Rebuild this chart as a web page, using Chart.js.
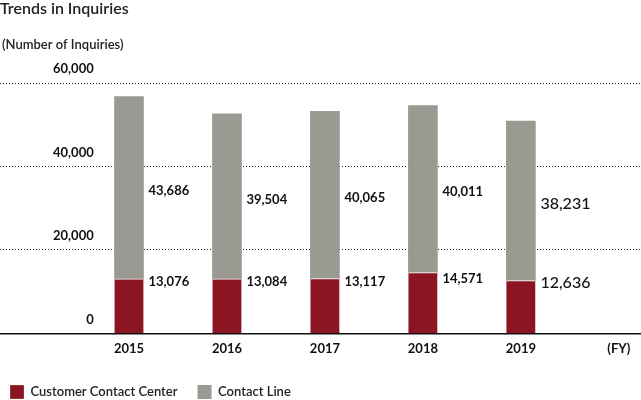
<!DOCTYPE html>
<html>
<head>
<meta charset="utf-8">
<script src="https://cdn.jsdelivr.net/npm/chart.js@4.4.0/dist/chart.umd.min.js"></script>
<style>
html,body{margin:0;padding:0;background:#fff;}
#wrap{position:relative;width:641px;height:400px;}
</style>
</head>
<body>
<div id="wrap"><canvas id="c" width="641" height="400"></canvas></div>
<script>
const titleText = 'Trends in Inquiries';
const unitText = '(Number of Inquiries)';
const years = ['2015', '2016', '2017', '2018', '2019'];
const fyLabel = '(FY)';
const customerContactCenter = [13076, 13084, 13117, 14571, 12636];
const contactLine = [43686, 39504, 40065, 40011, 38231];
const seriesNames = ['Customer Contact Center', 'Contact Line'];
const yTicks = [0, 20000, 40000, 60000];

const FONT = 'Lato, "Open Sans", sans-serif';
const RED = '#8b1523';
const GRAY = '#9a9a93';

const yearNums = years.map(Number);
const fyValue = yearNums[yearNums.length - 1] + 1;

const valueLabels = {
  id: 'valueLabels',
  afterDatasetsDraw(chart) {
    const ctx = chart.ctx;
    ctx.save();
    ctx.fillStyle = '#111';
    ctx.textAlign = 'left';
    ctx.textBaseline = 'middle';
    chart.data.datasets.forEach((ds, di) => {
      const meta = chart.getDatasetMeta(di);
      meta.data.forEach((bar, i) => {
        const last = i === meta.data.length - 1;
        ctx.font = last ? '500 16px ' + FONT : 'bold 13px ' + FONT;
        const v = ds.data[i].y;
        const txt = v.toLocaleString('en-US');
        const top = Math.min(bar.y, bar.base);
        const bot = Math.max(bar.y, bar.base);
        let y;
        if (di === 0) y = (top + bot) / 2 - 24;
        else y = (top + bot) / 2 + 3;
        ctx.fillText(txt, bar.x + bar.width / 2 + 5, y);
      });
    });
    ctx.restore();
  }
};

const headerText = {
  id: 'headerText',
  afterDraw(chart) {
    const ctx = chart.ctx;
    ctx.save();
    ctx.fillStyle = '#222';
    ctx.textAlign = 'left';
    ctx.textBaseline = 'middle';
    ctx.font = '600 16px ' + FONT;
    ctx.fillText(titleText, 0, 9);
    ctx.font = '600 13px ' + FONT;
    ctx.fillText(unitText, 2, 45);
    ctx.restore();
  }
};

new Chart(document.getElementById('c'), {
  type: 'bar',
  data: {
    datasets: [
      {
        label: seriesNames[0],
        data: yearNums.map((x, i) => ({x: x, y: customerContactCenter[i]})),
        backgroundColor: RED,
        borderColor: '#ffffff',
        borderWidth: {top: 1, left: 0, right: 0, bottom: 0},
        borderSkipped: false,
        barThickness: 29
      },
      {
        label: seriesNames[1],
        data: yearNums.map((x, i) => ({x: x, y: contactLine[i]})),
        backgroundColor: GRAY,
        borderColor: '#ffffff',
        borderWidth: 0,
        barThickness: 29
      }
    ]
  },
  options: {
    responsive: false,
    animation: false,
    devicePixelRatio: 1,
    layout: {padding: {top: 83, left: -10, right: 0, bottom: -9}},
    plugins: {
      title: {display: false},
      tooltip: {enabled: false},
      legend: {
        display: true,
        position: 'bottom',
        align: 'start',
        labels: {
          boxWidth: 14,
          boxHeight: 14,
          padding: 20,
          color: '#222',
          font: {family: FONT, size: 13, weight: '600'}
        }
      }
    },
    scales: {
      x: {
        type: 'linear',
        stacked: true,
        offset: false,
        min: 2013.6834,
        max: 2020.2261,
        afterBuildTicks(scale) {
          scale.ticks = yearNums.concat([fyValue]).map(v => ({value: v}));
        },
        grid: {display: false, drawTicks: false, offset: false},
        border: {display: true, color: '#111', width: 1.5},
        ticks: {
          padding: 8,
          color: '#111',
          font: {family: FONT, size: 13, weight: 'bold'},
          callback(v) {
            const idx = yearNums.indexOf(v);
            return idx >= 0 ? years[idx] : fyLabel;
          }
        }
      },
      y: {
        stacked: true,
        min: 0,
        max: 60000,
        afterBuildTicks(scale) {
          scale.ticks = yTicks.map(v => ({value: v}));
        },
        afterFit(scale) { scale.width = 0; },
        grid: {
          color: '#222',
          lineWidth: 1,
          drawTicks: false
        },
        border: {display: false, dash: [1, 2]},
        ticks: {
          mirror: true,
          crossAlign: 'far',
          padding: 53,
          labelOffset: -14,
          color: '#111',
          font: {family: FONT, size: 13, weight: 'bold'},
          callback(v) { return v.toLocaleString('en-US'); }
        }
      }
    }
  },
  plugins: [valueLabels, headerText]
});
</script>
</body>
</html>
